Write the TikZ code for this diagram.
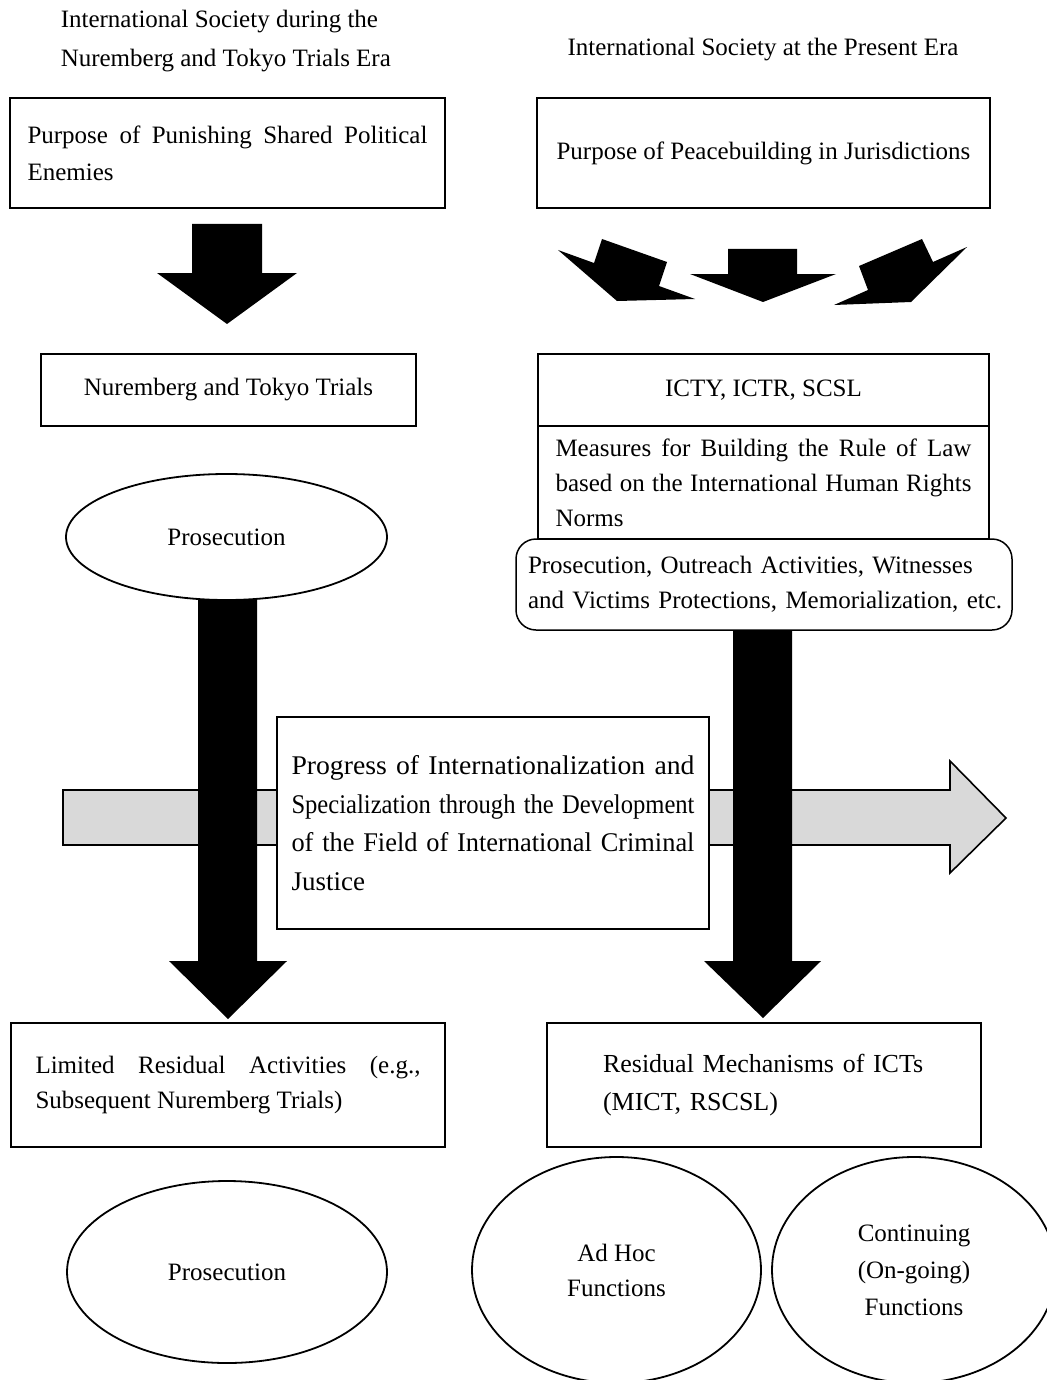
\documentclass[tikz,border=0pt]{standalone}
\usepackage{fontspec}
\usepackage{graphicx}
\setmainfont{Liberation Serif}
\usetikzlibrary{shapes.geometric}
\hyphenpenalty=10000
\exhyphenpenalty=10000
\tolerance=9999
\hbadness=10000
\hfuzz=20pt
\setlength{\parindent}{0pt}
\definecolor{arrowgray}{HTML}{D9D9D9}
\newcommand{\fitline}[1]{\resizebox{403pt}{\height}{#1}}
\begin{document}
\begin{tikzpicture}[x=1pt,y=-1pt,line width=1.5pt,
  box/.style={draw, rectangle, inner sep=0pt, fill=white},
  oval/.style={draw, ellipse, inner sep=0pt, fill=white, line width=1.8pt},
  f37/.style={font=\fontsize{25}{37}\selectfont},
  f35/.style={font=\fontsize{25}{35}\selectfont},
  f38/.style={font=\fontsize{26}{38}\selectfont},
  f39/.style={font=\fontsize{25}{39}\selectfont},
  fprog/.style={font=\fontsize{27}{38.5}\selectfont},
  blk/.style={fill=black, draw=none},
  grayarrow/.style={fill=arrowgray, draw=black, line width=1.6pt, line join=miter}]
\useasboundingbox (0,0) rectangle (1046,1380);

% grey horizontal arrow
\draw[grayarrow] (63,790) -- (950,790) -- (950,761) -- (1006,818) -- (950,873) -- (950,845) -- (63,845) -- cycle;

% black arrows
\fill[blk] (192,224) -- (262,224) -- (262,273) -- (297,273) -- (227,324) -- (157,273) -- (192,273) -- cycle;
\fill[blk] (728,249) -- (797,249) -- (797,274) -- (836,274) -- (763,302) -- (690,274) -- (728,274) -- cycle;
\fill[blk] (558,250) -- (594,263) -- (602,239) -- (667,262) -- (659,286) -- (695,299) -- (617,301) -- cycle;
\fill[blk] (967,247) -- (933,262) -- (922,239) -- (859,266) -- (868,290) -- (834,305) -- (911,302) -- cycle;
\fill[blk] (198,590) -- (257,590) -- (257,961) -- (287,961) -- (228,1019) -- (169,961) -- (198,961) -- cycle;
\fill[blk] (733,620) -- (792,620) -- (792,961) -- (821,961) -- (763,1018) -- (704,961) -- (733,961) -- cycle;

% titles
\node[f39, align=left, anchor=west, inner sep=0pt] (t1) at (60,41.5) {International Society during the\\Nuremberg and Tokyo Trials Era};
\node[f37, inner sep=0pt] (t2) at (763,50) {International Society at the Present Era};

% top boxes
\node[box, f37, minimum width=435pt, minimum height=110pt, text width=400pt, align=justify] (p1) at (227.5,153) {Purpose of Punishing Shared Political Enemies};
\node[box, f37, minimum width=453pt, minimum height=110pt] (p2) at (763.5,153) {Purpose of Peacebuilding in Jurisdictions};

\node[box, f37, minimum width=375pt, minimum height=72pt] (nt) at (228.5,390) {Nuremberg and Tokyo Trials};
\node[box, f37, minimum width=451pt, minimum height=72pt] (icty) at (763.5,390) {ICTY, ICTR, SCSL};
\node[box, f35, minimum width=451pt, minimum height=113pt, text width=416pt, align=justify] (meas) at (763.5,482.5) {Measures for Building the Rule of Law based on the International Human Rights Norms};
\node[box, f35, rounded corners=20pt, minimum width=496pt, minimum height=91pt, text width=472pt, align=left] (acts) at (764,584.5) {\mbox{Prosecution, Outreach Activities, Witnesses}\\\mbox{and Victims Protections, Memorialization, etc.}};

\node[oval, f37, minimum width=321pt, minimum height=126pt] (pros1) at (226.5,537) {Prosecution};

% middle box
\node[box, fprog, minimum width=432pt, minimum height=212pt, text width=403pt, align=left] (prog) at (493,823) {\fitline{Progress of Internationalization and}\\\fitline{Specialization through the Development}\\\fitline{of the Field of International Criminal}\\Justice};

% bottom boxes
\node[box, f35, minimum width=434pt, minimum height=124pt, text width=385pt, align=justify] (lim) at (228,1085) {Limited Residual Activities (e.g., Subsequent Nuremberg Trials)};
\node[box, f38, minimum width=434pt, minimum height=124pt, text width=322pt, align=left] (resm) at (764,1085) {Residual Mechanisms of ICTs\\(MICT, RSCSL)};

% bottom ovals
\node[oval, f37, minimum width=320pt, minimum height=182pt] (pros2) at (227,1272) {Prosecution};
\node[oval, f35, minimum width=289pt, minimum height=226pt, align=center] (adhoc) at (616.5,1270) {Ad Hoc\\Functions};
\node[oval, f37, minimum width=284pt, minimum height=226pt, align=center] (cont) at (914,1270) {Continuing\\(On-going)\\Functions};
\end{tikzpicture}
\end{document}
